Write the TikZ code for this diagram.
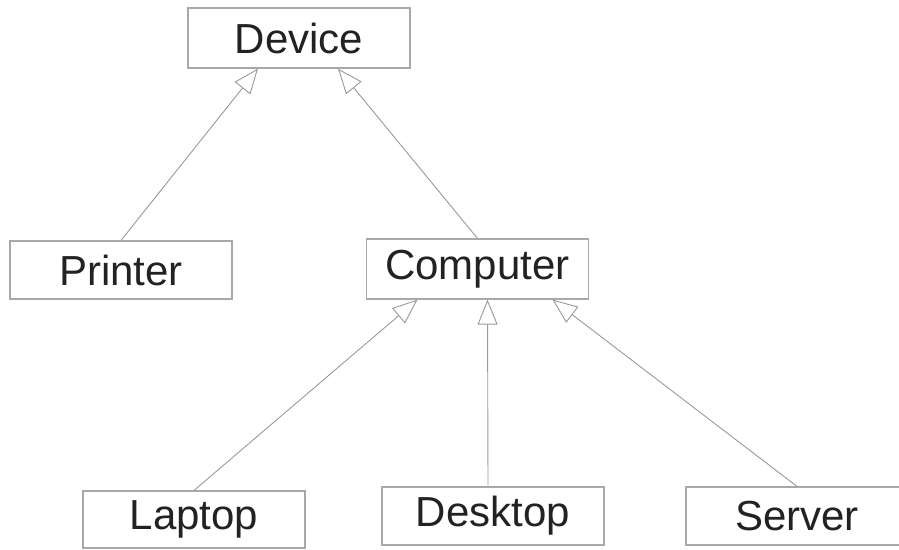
\documentclass[tikz,border=0pt]{standalone}
\usepackage{fontspec}
\setmainfont{Liberation Sans}
\usetikzlibrary{arrows.meta}

\definecolor{boxgray}{HTML}{A8A8A8}
\definecolor{linegray}{HTML}{999999}
\definecolor{textgray}{HTML}{222222}

\tikzset{
  classbox/.style={draw=boxgray, line width=1.2pt, fill=white,
    minimum width=222pt, minimum height=58pt, inner sep=0pt,
    text=textgray, font=\fontsize{42}{46}\selectfont},
  isa/.style={draw=linegray, line width=0.9pt,
    -{Triangle[open, length=25pt, width=20pt, fill=white]}}
}

\begin{document}
\begin{tikzpicture}[x=1pt, y=-1pt]
      \useasboundingbox (0,0) rectangle (899,549);

      % classes
      \node[classbox, minimum height=60pt] (device) at (299, 38) {Device};
      \node[classbox] (printer) at (121, 270) {Printer};
      \node[classbox, minimum height=60pt] (computer) at (477.5, 269) {Computer};
      \node[classbox, minimum height=57pt] (laptop) at (194, 519.5) {Laptop};
      \node[classbox] (desktop) at (493, 516) {Desktop};
      \node[classbox] (server) at (797, 516) {Server};

      % inheritance
      \draw[isa] (printer.north) -- ([xshift=-41pt]device.south);
      \draw[isa] (computer.north) -- ([xshift=39pt]device.south);
      \draw[isa] (laptop.north) -- ([xshift=-60pt]computer.south);
      \draw[isa] ([xshift=-5pt]desktop.north) -- ([xshift=10pt]computer.south);
      \draw[isa] (server.north) -- ([xshift=75pt]computer.south);
\end{tikzpicture}
\end{document}
